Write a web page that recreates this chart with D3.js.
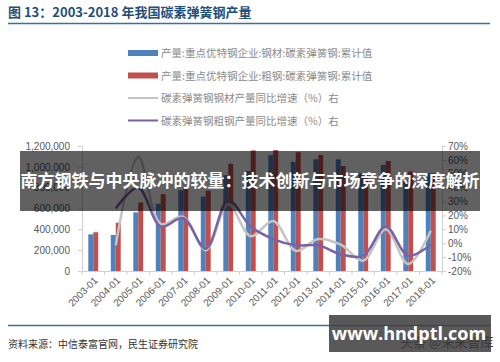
<!DOCTYPE html>
<html>
<head>
<meta charset="utf-8">
<script src="https://cdn.jsdelivr.net/npm/d3@7"></script>
<style>
  body { margin: 0; background: #fff; }
  svg { display: block; }
</style>
</head>
<body>
<div id="chart"></div>
<script>
// categories and series (production in tonnes, growth in %)
const years = ["2003-01","2004-01","2005-01","2006-01","2007-01","2008-01","2009-01","2010-01",
               "2011-01","2012-01","2013-01","2014-01","2015-01","2016-01","2017-01","2018-01"];
const steelProducts = [352000, 346000, 563000, 645000, 775000, 715000, 920000, 960000,
                       1112000, 1048000, 1073000, 1072000, 938000, 1018000, 865000, 938000];
const crudeSteel = [372000, 464000, 659000, 738000, 800000, 770000, 1030000, 1158000,
                    1162000, 1140000, 1114000, 1008000, 938000, 1056000, 955000, 938000];
const productsGrowth = [null, -1.5, 62, 14, 19, -5, 28, 5, 16, -5.5, 3, -1, -12.5, 10, -15, 9];
const crudeGrowth = [null, 25, 40, 12, 18, -4, 31, 12, 3, -1.5, -1.5, -8, -9, 12, -9, -1];
const leftTicks = [0, 200000, 400000, 600000, 800000, 1000000, 1200000];
const rightTicks = [-20, -10, 0, 10, 20, 30, 40, 50, 60, 70];

const seriesNames = [
  "产量:重点优特钢企业:钢材:碳素弹簧钢:累计值",
  "产量:重点优特钢企业:粗钢:碳素弹簧钢:累计值",
  "碳素弹簧钢钢材产量同比增速（%）右",
  "碳素弹簧钢粗钢产量同比增速（%）右"
];

const width = 500, height = 362;
const colBlue = "#4f81bd", colRed = "#c0504d", colGray = "#c4c4c4", colPurple = "#7b62a3";
const numFont = "'Liberation Sans', Arial, sans-serif";
const cjkFont = "'Noto Sans CJK SC', sans-serif";

const svg = d3.select("#chart").append("svg")
    .attr("width", width)
    .attr("height", height);

svg.append("rect").attr("width", width).attr("height", height).attr("fill", "#fff");

// title + rule
svg.append("text")
    .attr("x", 8).attr("y", 17)
    .style("font-family", cjkFont)
    .style("font-size", "13px")
    .style("font-weight", "bold")
    .attr("fill", "#1f4e79")
    .text("图 13：2003-2018 年我国碳素弹簧钢产量");

svg.append("line")
    .attr("x1", 8).attr("x2", 490).attr("y1", 23.5).attr("y2", 23.5)
    .attr("stroke", "#3a6ea5").attr("stroke-width", 1.5);

// scales
const x = d3.scaleBand().domain(years).range([82, 442]).paddingInner(0.56).paddingOuter(0.28);
const xs = d3.scaleBand().domain([0, 1]).range([0, x.bandwidth()]);
const yL = d3.scaleLinear().domain([0, 1200000]).range([271, 146]);
const yR = d3.scaleLinear().domain([-20, 70]).range([271, 146]);

// bars
const barData = years.map((c, i) => ({ c, v: [steelProducts[i], crudeSteel[i]] }));
const groups = svg.append("g").selectAll("g")
    .data(barData)
    .join("g")
    .attr("transform", d => `translate(${x(d.c)},0)`);

groups.selectAll("rect")
    .data(d => d.v.map((v, k) => ({ k, v })))
    .join("rect")
    .attr("x", d => xs(d.k))
    .attr("width", xs.bandwidth())
    .attr("y", d => yL(d.v))
    .attr("height", d => yL(0) - yL(d.v))
    .attr("fill", d => d.k === 0 ? colBlue : colRed);

// growth lines
const cx = c => x(c) + x.bandwidth() / 2;
const line = d3.line()
    .defined(d => d.v != null)
    .x(d => cx(d.c))
    .y(d => yR(d.v))
    .curve(d3.curveCatmullRom.alpha(0.5));

[[productsGrowth, colGray], [crudeGrowth, colPurple]].forEach(([vals, col]) => {
  svg.append("path")
      .datum(years.map((c, i) => ({ c, v: vals[i] })))
      .attr("fill", "none")
      .attr("stroke", col)
      .attr("stroke-width", 2.5)
      .attr("stroke-linejoin", "round")
      .attr("d", line);
});

// axes
const styleAxis = g => {
  g.select(".domain").attr("stroke", "#d0d0d0");
  g.selectAll(".tick line").attr("stroke", "#d0d0d0");
  g.selectAll("text").attr("fill", "#595959")
      .style("font-family", numFont).style("font-size", "10px");
};

svg.append("g")
    .attr("transform", "translate(82,0)")
    .call(d3.axisLeft(yL).tickValues(leftTicks).tickFormat(d3.format(",")).tickSize(4).tickPadding(8).tickSizeOuter(0))
    .call(styleAxis);

svg.append("g")
    .attr("transform", "translate(442,0)")
    .call(d3.axisRight(yR).tickValues(rightTicks).tickFormat(d => d + "%").tickSize(4).tickPadding(2).tickSizeOuter(0))
    .call(styleAxis);

const xAxis = svg.append("g")
    .attr("transform", `translate(0,${yL(0)})`)
    .call(d3.axisBottom(x).tickSize(0).tickSizeOuter(0))
    .call(styleAxis);
xAxis.selectAll("text")
    .attr("text-anchor", "end")
    .attr("dy", 0)
    .attr("transform", "translate(3,8) rotate(-45)");

// category boundary ticks
svg.append("g").selectAll("line")
    .data(d3.range(years.length + 1))
    .join("line")
    .attr("x1", i => x.range()[0] + i * x.step())
    .attr("x2", i => x.range()[0] + i * x.step())
    .attr("y1", yL(0)).attr("y2", yL(0) + 4)
    .attr("stroke", "#d0d0d0");

// legend
const legend = svg.append("g").selectAll("g")
    .data(seriesNames)
    .join("g")
    .attr("transform", (d, i) => `translate(128,${53 + i * 22.5})`);

legend.append("rect")
    .attr("x", 0).attr("width", 30)
    .attr("y", (d, i) => i < 2 ? -3 : -1)
    .attr("height", (d, i) => i < 2 ? 6 : 2)
    .attr("fill", (d, i) => [colBlue, colRed, colGray, colPurple][i]);

legend.append("text")
    .attr("x", 33).attr("y", 4)
    .style("font-family", cjkFont)
    .style("font-size", "10.5px")
    .attr("fill", "#8a8a8a")
    .text(d => d);

// bottom rule + source
svg.append("line")
    .attr("x1", 8).attr("x2", 490).attr("y1", 325.5).attr("y2", 325.5)
    .attr("stroke", "#3a6ea5").attr("stroke-width", 1.5);

svg.append("text")
    .attr("x", 8).attr("y", 348)
    .style("font-family", cjkFont)
    .style("font-size", "10px")
    .attr("fill", "#333")
    .text("资料来源：中信泰富官网，民生证券研究院");

// headline banner over the chart
svg.append("rect")
    .attr("x", 20).attr("y", 151).attr("width", 460).attr("height", 60)
    .attr("fill", "rgba(0,0,0,0.62)");

svg.append("text")
    .attr("x", 250).attr("y", 187)
    .attr("text-anchor", "middle")
    .style("font-family", cjkFont)
    .style("font-size", "17px")
    .style("font-weight", "bold")
    .attr("fill", "#fff")
    .text("南方钢铁与中央脉冲的较量：技术创新与市场竞争的深度解析");

// watermark box
svg.append("text")
    .attr("x", 400).attr("y", 347)
    .style("font-family", cjkFont)
    .style("font-size", "13px")
    .attr("fill", "#222")
    .text("头条 @未来智库");

svg.append("rect")
    .attr("x", 329).attr("y", 315).attr("width", 162).attr("height", 37)
    .attr("fill", "rgba(60,60,60,0.85)");

svg.append("text")
    .attr("x", 409).attr("y", 340)
    .attr("text-anchor", "middle")
    .style("font-family", "'Open Sans', sans-serif")
    .style("font-size", "18px")
    .style("font-weight", "bold")
    .attr("fill", "#fff")
    .text("www.hndptl.com");
</script>
</body>
</html>
